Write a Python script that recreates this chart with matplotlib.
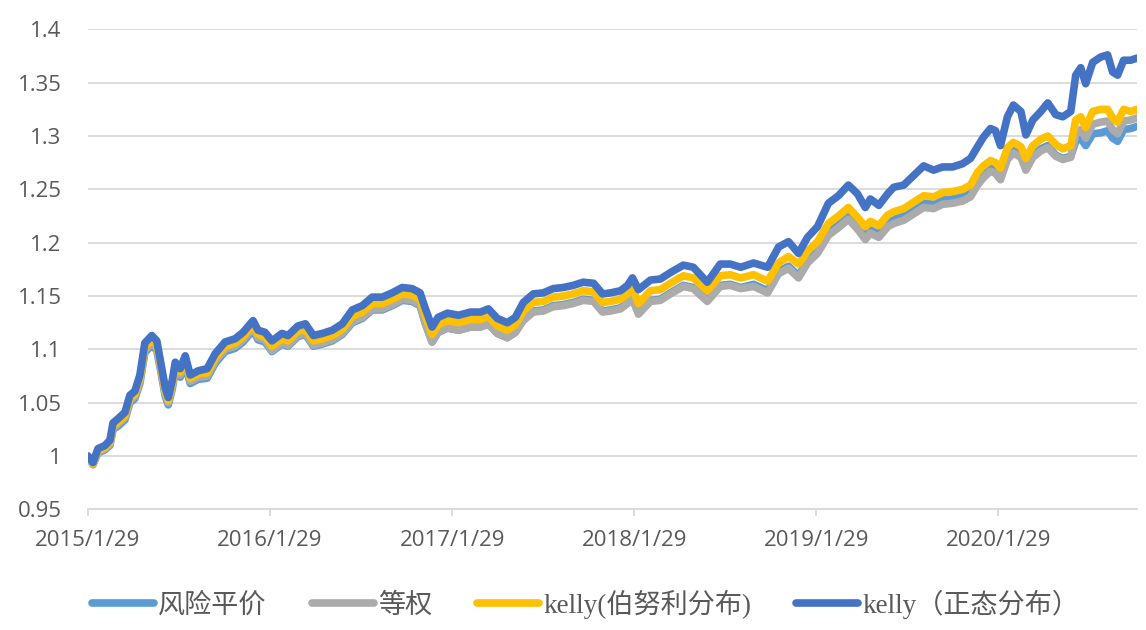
import pandas as pd
import matplotlib
matplotlib.use('Agg')
from matplotlib import pyplot as plt
from matplotlib.ticker import FuncFormatter, MultipleLocator

# values (net value curves)
dates = [
    '2015-01-29', '2015-02-08', '2015-02-18', '2015-03-04', '2015-03-14', '2015-03-20',
    '2015-03-30', '2015-04-13', '2015-04-23', '2015-05-03', '2015-05-13', '2015-05-23',
    '2015-06-06', '2015-06-16', '2015-06-23', '2015-07-03', '2015-07-09', '2015-07-17',
    '2015-07-23', '2015-08-02', '2015-08-12', '2015-08-22', '2015-09-07', '2015-09-25',
    '2015-10-11', '2015-10-31', '2015-11-20', '2015-12-06', '2015-12-26', '2016-01-05',
    '2016-01-19', '2016-02-02', '2016-02-22', '2016-03-05', '2016-03-25', '2016-04-09',
    '2016-04-25', '2016-05-13', '2016-06-02', '2016-06-22', '2016-07-12', '2016-08-01',
    '2016-08-21', '2016-09-10', '2016-09-30', '2016-10-20', '2016-11-09', '2016-11-25',
    '2016-12-05', '2016-12-19', '2016-12-31', '2017-01-19', '2017-02-10', '2017-03-06',
    '2017-03-26', '2017-04-11', '2017-04-29', '2017-05-19', '2017-06-04', '2017-06-20',
    '2017-07-10', '2017-07-30', '2017-08-19', '2017-09-08', '2017-09-28', '2017-10-18',
    '2017-11-08', '2017-11-26', '2017-12-12', '2018-01-01', '2018-01-15', '2018-01-25',
    '2018-02-06', '2018-03-02', '2018-03-22', '2018-04-11', '2018-05-07', '2018-05-27',
    '2018-06-24', '2018-07-20', '2018-08-09', '2018-08-30', '2018-09-25', '2018-10-23',
    '2018-11-14', '2018-12-04', '2018-12-24', '2019-01-11', '2019-01-31', '2019-02-22',
    '2019-03-14', '2019-04-03', '2019-04-21', '2019-05-07', '2019-05-17', '2019-06-03',
    '2019-06-21', '2019-07-03', '2019-07-23', '2019-08-12', '2019-09-01', '2019-09-21',
    '2019-10-09', '2019-10-29', '2019-11-18', '2019-12-04', '2019-12-18', '2019-12-30',
    '2020-01-13', '2020-01-23', '2020-02-02', '2020-02-16', '2020-02-28', '2020-03-14',
    '2020-03-24', '2020-04-07', '2020-04-23', '2020-05-07', '2020-05-23', '2020-06-06',
    '2020-06-22', '2020-07-02', '2020-07-12', '2020-07-22', '2020-08-05', '2020-08-21',
    '2020-09-04', '2020-09-14', '2020-09-24', '2020-10-06', '2020-10-20', '2020-11-02',
]

kelly_normal = [
    1.000, 0.994, 1.007, 1.010, 1.015, 1.031, 1.035, 1.041, 1.057, 1.061, 1.076, 1.106,
    1.113, 1.108, 1.090, 1.064, 1.055, 1.071, 1.088, 1.082, 1.094, 1.076, 1.080, 1.082,
    1.096, 1.107, 1.110, 1.116, 1.127, 1.118, 1.116, 1.108, 1.115, 1.113, 1.122, 1.124,
    1.113, 1.115, 1.118, 1.124, 1.137, 1.141, 1.149, 1.149, 1.153, 1.158, 1.157, 1.153,
    1.139, 1.121, 1.130, 1.134, 1.132, 1.135, 1.135, 1.138, 1.129, 1.125, 1.130, 1.144,
    1.152, 1.153, 1.157, 1.158, 1.160, 1.163, 1.162, 1.152, 1.153, 1.155, 1.160, 1.167,
    1.156, 1.165, 1.166, 1.172, 1.179, 1.177, 1.163, 1.180, 1.180, 1.177, 1.181, 1.177,
    1.196, 1.201, 1.190, 1.205, 1.215, 1.237, 1.244, 1.254, 1.246, 1.233, 1.241, 1.235,
    1.246, 1.252, 1.254, 1.263, 1.272, 1.268, 1.271, 1.271, 1.274, 1.279, 1.290, 1.299,
    1.307, 1.305, 1.291, 1.318, 1.329, 1.323, 1.301, 1.315, 1.323, 1.331, 1.320, 1.318,
    1.323, 1.357, 1.364, 1.349, 1.369, 1.374, 1.376, 1.360, 1.357, 1.371, 1.371, 1.373,
]

kelly_bernoulli = [
    1.000, 0.993, 1.005, 1.008, 1.013, 1.028, 1.032, 1.038, 1.054, 1.058, 1.073, 1.102,
    1.109, 1.104, 1.087, 1.061, 1.052, 1.068, 1.085, 1.079, 1.091, 1.073, 1.077, 1.078,
    1.092, 1.103, 1.106, 1.112, 1.123, 1.114, 1.112, 1.103, 1.110, 1.108, 1.117, 1.119,
    1.108, 1.110, 1.113, 1.119, 1.131, 1.135, 1.143, 1.143, 1.147, 1.152, 1.151, 1.147,
    1.132, 1.114, 1.123, 1.127, 1.125, 1.128, 1.128, 1.131, 1.122, 1.118, 1.123, 1.136,
    1.144, 1.145, 1.149, 1.150, 1.152, 1.155, 1.154, 1.144, 1.145, 1.147, 1.152, 1.157,
    1.143, 1.155, 1.156, 1.162, 1.169, 1.167, 1.155, 1.169, 1.170, 1.167, 1.170, 1.164,
    1.181, 1.187, 1.180, 1.192, 1.201, 1.218, 1.225, 1.233, 1.224, 1.215, 1.220, 1.216,
    1.226, 1.229, 1.232, 1.238, 1.244, 1.243, 1.247, 1.248, 1.250, 1.254, 1.266, 1.272,
    1.277, 1.275, 1.270, 1.289, 1.294, 1.290, 1.279, 1.291, 1.297, 1.300, 1.292, 1.288,
    1.291, 1.315, 1.318, 1.308, 1.323, 1.325, 1.325, 1.317, 1.313, 1.325, 1.323, 1.325,
]

equal_weight = [
    1.000, 0.992, 1.004, 1.007, 1.011, 1.026, 1.030, 1.036, 1.052, 1.056, 1.070, 1.099,
    1.106, 1.101, 1.084, 1.058, 1.050, 1.065, 1.082, 1.076, 1.088, 1.070, 1.074, 1.075,
    1.089, 1.100, 1.103, 1.109, 1.120, 1.111, 1.109, 1.099, 1.106, 1.104, 1.113, 1.115,
    1.104, 1.106, 1.109, 1.115, 1.126, 1.130, 1.138, 1.138, 1.142, 1.147, 1.146, 1.142,
    1.125, 1.107, 1.116, 1.120, 1.118, 1.121, 1.121, 1.124, 1.115, 1.111, 1.116, 1.127,
    1.135, 1.136, 1.140, 1.141, 1.143, 1.146, 1.145, 1.135, 1.136, 1.138, 1.143, 1.147,
    1.133, 1.145, 1.146, 1.152, 1.159, 1.157, 1.145, 1.159, 1.160, 1.157, 1.159, 1.153,
    1.171, 1.176, 1.167, 1.181, 1.190, 1.207, 1.214, 1.222, 1.213, 1.203, 1.209, 1.205,
    1.215, 1.218, 1.221, 1.227, 1.233, 1.232, 1.236, 1.237, 1.239, 1.243, 1.254, 1.261,
    1.267, 1.265, 1.259, 1.278, 1.284, 1.280, 1.268, 1.280, 1.286, 1.289, 1.281, 1.278,
    1.280, 1.302, 1.306, 1.298, 1.311, 1.313, 1.314, 1.306, 1.302, 1.314, 1.315, 1.317,
]

risk_parity = [
    1.000, 0.992, 1.003, 1.006, 1.010, 1.025, 1.028, 1.034, 1.050, 1.054, 1.068, 1.097,
    1.104, 1.099, 1.082, 1.056, 1.048, 1.063, 1.080, 1.074, 1.086, 1.068, 1.072, 1.073,
    1.087, 1.098, 1.101, 1.107, 1.118, 1.109, 1.107, 1.098, 1.105, 1.103, 1.112, 1.114,
    1.103, 1.105, 1.108, 1.114, 1.125, 1.129, 1.137, 1.137, 1.141, 1.146, 1.145, 1.141,
    1.125, 1.107, 1.116, 1.120, 1.118, 1.121, 1.121, 1.124, 1.115, 1.111, 1.116, 1.128,
    1.136, 1.137, 1.141, 1.142, 1.144, 1.147, 1.146, 1.136, 1.137, 1.139, 1.144, 1.148,
    1.135, 1.146, 1.147, 1.153, 1.160, 1.158, 1.146, 1.160, 1.161, 1.158, 1.161, 1.155,
    1.173, 1.178, 1.169, 1.183, 1.192, 1.210, 1.217, 1.225, 1.216, 1.207, 1.212, 1.208,
    1.218, 1.222, 1.225, 1.231, 1.237, 1.236, 1.240, 1.241, 1.243, 1.246, 1.257, 1.264,
    1.270, 1.268, 1.262, 1.281, 1.287, 1.283, 1.270, 1.282, 1.288, 1.291, 1.282, 1.279,
    1.281, 1.295, 1.298, 1.291, 1.302, 1.303, 1.305, 1.298, 1.295, 1.306, 1.307, 1.309,
]

labels = ['风险平价', '等权', 'kelly(伯努利分布)', 'kelly（正态分布）']
colors = ['#5B9BD5', '#ABABAB', '#FFC000', '#4472C4']
x_ticks = ['2015-01-29', '2016-01-29', '2017-01-29', '2018-01-29', '2019-01-29', '2020-01-29']

df = pd.DataFrame({
    labels[0]: risk_parity,
    labels[1]: equal_weight,
    labels[2]: kelly_bernoulli,
    labels[3]: kelly_normal,
}, index=pd.to_datetime(dates))

grid_color = '#D9D9D9'
text_color = '#595959'

fig = plt.figure(figsize=(11.46, 6.3), dpi=100)
ax = fig.add_axes([0.0768, 0.1913, 0.9154, 0.7622])

for name, color in zip(labels, colors):
    ax.plot(df.index, df[name], color=color, lw=5.5, label=name,
            solid_joinstyle='round', solid_capstyle='round')

ax.set_ylim(0.95, 1.4)
ax.set_xlim(df.index[0], df.index[-1])
ax.yaxis.set_major_locator(MultipleLocator(0.05))
ax.yaxis.set_major_formatter(FuncFormatter(lambda v, _: f'{v:g}'))
ax.set_xticks(pd.to_datetime(x_ticks))
ax.xaxis.set_major_formatter(FuncFormatter(
    lambda v, _: (lambda d: f'{d.year}/{d.month}/{d.day}')(matplotlib.dates.num2date(v))))

ax.grid(axis='y', color=grid_color, lw=1.3)
ax.set_axisbelow(True)
for side in ['top', 'right', 'left']:
    ax.spines[side].set_visible(False)
ax.spines['bottom'].set_color(grid_color)
ax.spines['bottom'].set_linewidth(1.3)

ax.tick_params(axis='y', length=0, pad=19, labelsize=16, labelcolor=text_color)
ax.tick_params(axis='x', direction='out', length=5, width=1.3, color=grid_color,
               pad=10, labelsize=16, labelcolor=text_color)
for lab in ax.get_xticklabels() + ax.get_yticklabels():
    lab.set_family('Open Sans')

fig.legend(loc='center', bbox_to_anchor=(0.511, 0.041), ncol=4, frameon=False,
           prop={'family': ['Liberation Serif', 'Noto Sans CJK SC'], 'size': 19.5},
           labelcolor=text_color, handlelength=2.3, handletextpad=0.15,
           columnspacing=1.65)

plt.savefig('out.png', dpi=100)
